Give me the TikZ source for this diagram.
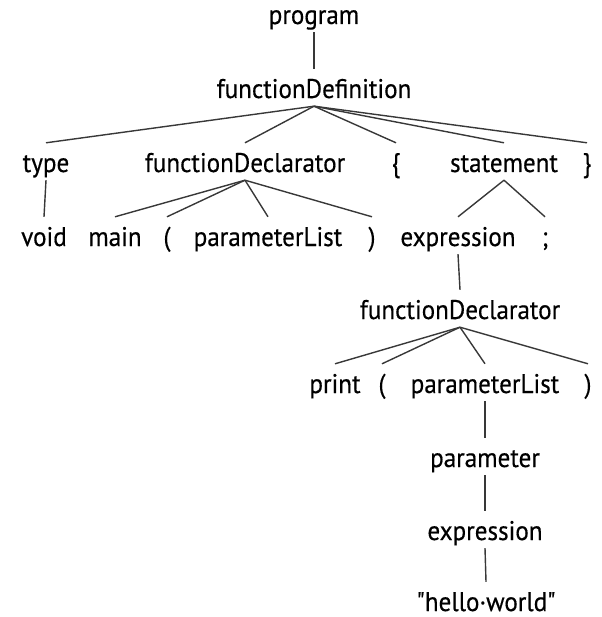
\documentclass[tikz,border=0pt]{standalone}
\usepackage{fontspec}
% plain family: no TeX ligatures, so " stays a straight quote
\newfontfamily\treefont[FakeStretch=0.93,FakeBold=0.4]{PT Sans}
\begin{document}
\begin{tikzpicture}[x=1pt,y=1pt,
  tok/.style={anchor=base, inner xsep=0pt, inner ysep=3pt,
    text height=26pt, text depth=5pt, font=\treefont\fontsize{27}{31}\selectfont, text=black},
  edge/.style={draw=black!78, line width=1.4pt}]
  \useasboundingbox (0,0) rectangle (601,-617);
  % level 0 and 1
  \node[tok] (prog) at (314,-24) {program};
  \node[tok] (fdef) at (314,-98) {functionDefinition};
  % level 2
  \node[tok] (type)  at (46,-172)  {type};
  \node[tok] (fdecl) at (245,-172) {functionDeclarator};
  \node[tok] (lbr)   at (396,-172) {\{};
  \node[tok] (stmt)  at (504,-172) {statement};
  \node[tok] (rbr)   at (587,-172) {\}};
  % level 3
  \node[tok] (void)  at (44,-246)  {void};
  \node[tok] (main)  at (115,-246) {main};
  \node[tok] (lp)    at (167,-246) {(};
  \node[tok] (plist) at (268,-246) {parameterList};
  \node[tok] (rp)    at (372,-246) {)};
  \node[tok] (expr)  at (458,-246) {expression};
  \node[tok] (semi)  at (545,-246) {;};
  % level 4 and 5
  \node[tok] (fdecl2) at (460,-319) {functionDeclarator};
  \node[tok] (print)  at (335,-393) {print};
  \node[tok] (lp2)    at (382,-393) {(};
  \node[tok] (plist2) at (485,-393) {parameterList};
  \node[tok] (rp2)    at (588,-393) {)};
  % level 6 to 8
  \node[tok] (param) at (485,-467) {parameter};
  \node[tok] (expr2) at (485,-540) {expression};
  \node[tok] (str)   at (486,-611) {"hello·world"};
  % edges
  \path[edge] (prog.south) -- (fdef.north);
  \foreach \c in {type,fdecl,lbr,stmt,rbr} \path[edge] (fdef.south) -- (\c.north);
  \path[edge] (type.south) -- (void.north);
  \foreach \c in {main,lp,plist,rp} \path[edge] (fdecl.south) -- (\c.north);
  \foreach \c in {expr,semi} \path[edge] (stmt.south) -- (\c.north);
  \path[edge] (expr.south) -- (fdecl2.north);
  \foreach \c in {print,lp2,plist2,rp2} \path[edge] (fdecl2.south) -- (\c.north);
  \path[edge] (plist2.south) -- (param.north);
  \path[edge] (param.south) -- (expr2.north);
  \path[edge] (expr2.south) -- (str.north);
\end{tikzpicture}
\end{document}
